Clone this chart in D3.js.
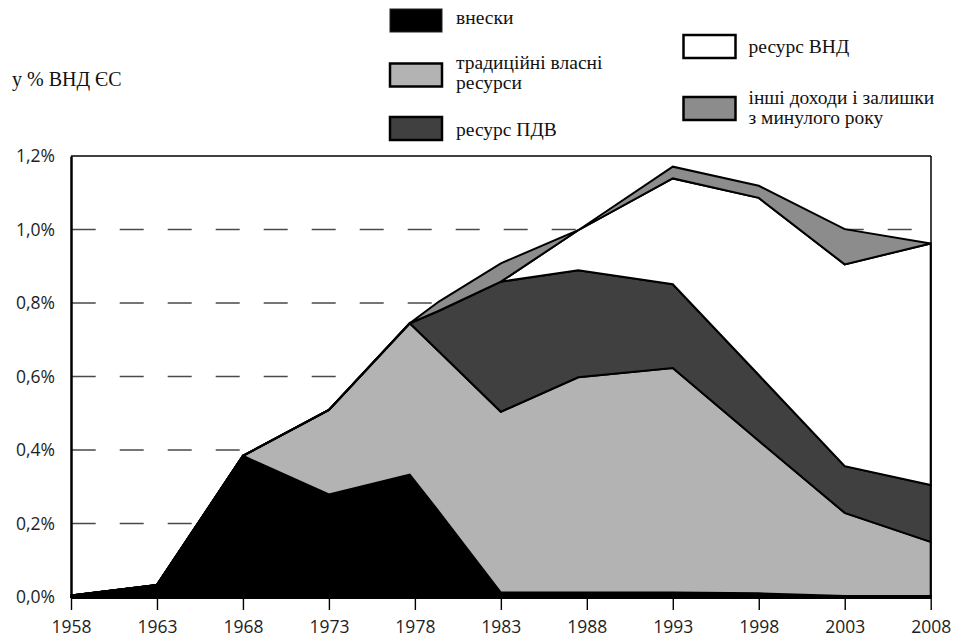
<!DOCTYPE html>
<html><head><meta charset="utf-8">
<script src="https://cdn.jsdelivr.net/npm/d3@7"></script>
<style>body{margin:0;background:#fff}svg{display:block}</style>
</head><body><svg id="c" width="962" height="639"></svg>
<script>
// ---- data (% of EU GNI) ----
const years         = [1958, 1963, 1968, 1973, 1977.7, 1979.4, 1983, 1987.5, 1993, 1998, 2003, 2008];
const contributions = [0.004, 0.033, 0.384, 0.279, 0.333, 0.232, 0.012, 0.012, 0.012, 0.010, 0.003, 0.003];
const traditional   = [0, 0, 0, 0.230, 0.412, 0.436, 0.492, 0.586, 0.611, 0.415, 0.226, 0.147];
const vatResource   = [0, 0, 0, 0, 0, 0.111, 0.354, 0.291, 0.228, 0.179, 0.127, 0.155];
const gniResource   = [0, 0, 0, 0, 0, 0, 0, 0.109, 0.288, 0.482, 0.549, 0.657];
const otherRevenue  = [0, 0, 0, 0, 0, 0.025, 0.050, 0, 0.032, 0.033, 0.096, 0];
const xTickYears    = [1958, 1963, 1968, 1973, 1978, 1983, 1988, 1993, 1998, 2003, 2008];
const yTickValues   = [0, 0.2, 0.4, 0.6, 0.8, 1.0, 1.2];
const gridValues    = [0.2, 0.4, 0.6, 0.8, 1.0];
const seriesKeys    = ["c", "t", "v", "g", "o"];
const seriesLabels  = [["внески"], ["традиційні власні", "ресурси"], ["ресурс ПДВ"], ["ресурс ВНД"], ["інші доходи і залишки", "з минулого року"]];
const axisTitle     = "у % ВНД ЄС";

// ---- styles ----
const fills = {c:"#000000", t:"#b3b3b3", v:"#404040", g:"#ffffff", o:"#8c8c8c"};
const SERIF = "\"Liberation Serif\"";
const SANS = "\"Open Sans\"";

const svg = d3.select("#c");
const L = 71, R = 930.7, T = 156, B = 597;
const x = d3.scaleLinear().domain([1958, 2008]).range([L, R]);
const y = d3.scaleLinear().domain([0, 1.2]).range([B, T]);

const table = years.map((yr, i) => ({year: yr, c: contributions[i], t: traditional[i], v: vatResource[i], g: gniResource[i], o: otherRevenue[i]}));
const stacked = d3.stack().keys(seriesKeys)(table);

// gridlines
svg.append("g").selectAll("line").data(gridValues).join("line")
  .attr("x1", L + 0.7).attr("x2", 931).attr("y1", d => y(d)).attr("y2", d => y(d))
  .attr("stroke", "#4a4a4a").attr("stroke-width", 1.3).attr("stroke-dasharray", "24,24");

// areas
const area = d3.area().x(d => x(d.data.year)).y0(d => y(d[0])).y1(d => y(d[1]));
svg.append("g").selectAll("path").data(stacked).join("path")
  .attr("d", area)
  .attr("fill", d => fills[d.key])
  .attr("stroke", "#000").attr("stroke-width", 2).attr("stroke-linejoin", "miter");

// frame (top & right, thin)
svg.append("line").attr("x1", L).attr("x2", 931).attr("y1", T).attr("y2", T).attr("stroke", "#000").attr("stroke-width", 1.5);
svg.append("line").attr("x1", 931).attr("x2", 931).attr("y1", T).attr("y2", B).attr("stroke", "#000").attr("stroke-width", 1.5);

// x axis
const xAxis = svg.append("g").attr("transform", `translate(0,${B})`)
  .call(d3.axisBottom(x).tickValues(xTickYears).tickFormat(d3.format("d")).tickSize(13).tickSizeOuter(0));
xAxis.select(".domain").attr("stroke", "#000").attr("stroke-width", 3);
xAxis.selectAll(".tick line").attr("stroke", "#000").attr("stroke-width", 1.4);
xAxis.selectAll(".tick text").attr("y", 24).attr("dy", "0.71em")
  .style("font-family", SANS).attr("font-size", 17.5).attr("fill", "#1e1e1e");

// y axis
const yAxis = svg.append("g").attr("transform", `translate(${L},0)`)
  .call(d3.axisLeft(y).tickValues(yTickValues).tickFormat(d => d3.format(".1f")(d).replace(".", ",") + "%").tickSize(0).tickSizeOuter(0).tickPadding(16));
yAxis.select(".domain").attr("stroke", "#000").attr("stroke-width", 2.5);
yAxis.selectAll(".tick text").style("font-family", SANS).attr("font-size", 17.5).attr("fill", "#1e1e1e");

// axis title
svg.append("text").attr("x", 12).attr("y", 86).text(axisTitle)
  .style("font-family", SERIF).attr("font-size", 20).attr("fill", "#111");

// legend
const legendPos = [
  {bx: 390, by: 9, tx: 456, ty: [24]},
  {bx: 390, by: 63.5, tx: 456, ty: [68.5, 88.5]},
  {bx: 390, by: 117, tx: 456, ty: [136]},
  {bx: 683.5, by: 35, tx: 748.5, ty: [53]},
  {bx: 683.5, by: 97, tx: 748.5, ty: [104, 124]}
];
const lg = svg.append("g");
seriesKeys.forEach((k, i) => {
  const p = legendPos[i];
  lg.append("rect").attr("x", p.bx).attr("y", p.by).attr("width", 52).attr("height", 23)
    .attr("fill", fills[k]).attr("stroke", k === "c" ? "#222" : "#000").attr("stroke-width", k === "c" ? 1 : 2.5);
  seriesLabels[i].forEach((line, j) => {
    lg.append("text").attr("x", p.tx).attr("y", p.ty[j]).text(line)
      .style("font-family", SERIF).attr("font-size", 19.5).attr("fill", "#111");
  });
});
</script>
</body></html>
